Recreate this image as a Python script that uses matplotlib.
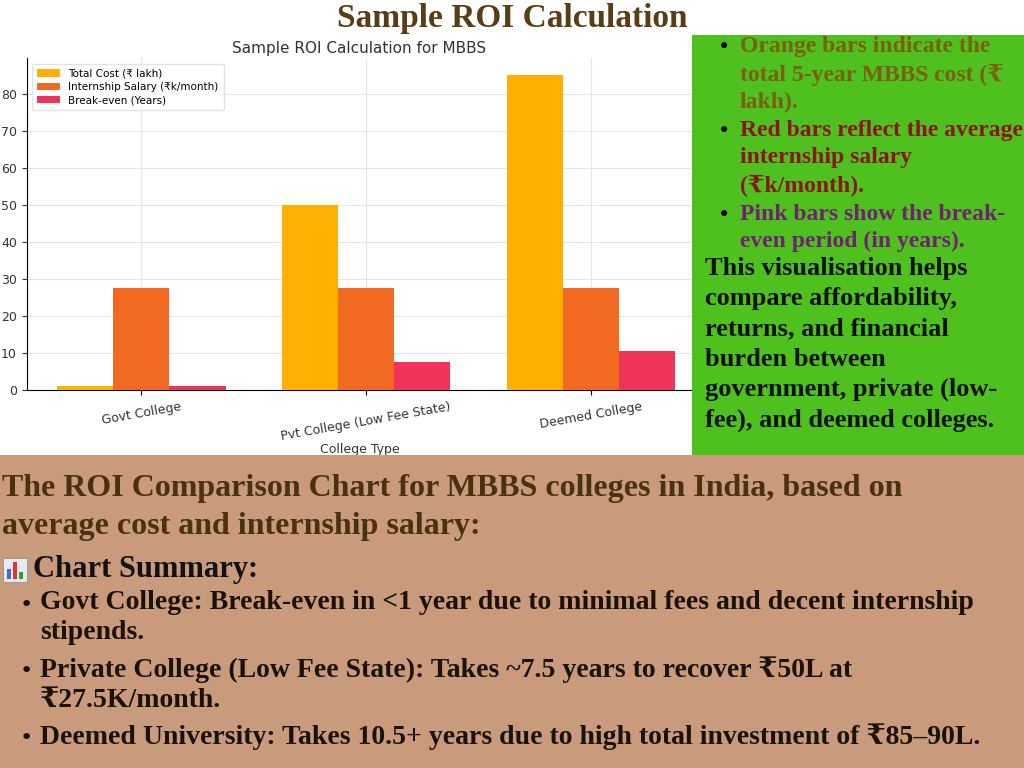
import matplotlib
matplotlib.use("Agg")
import matplotlib.pyplot as plt
import numpy as np
from matplotlib.patches import Rectangle

categories = ["Govt College", "Pvt College (Low Fee State)", "Deemed College"]
total_cost = [1, 50, 85]
intern_salary = [27.5, 27.5, 27.5]
break_even = [1, 7.5, 10.5]
series_labels = ["Total Cost (₹ lakh)", "Internship Salary (₹k/month)", "Break-even (Years)"]
yticks = [0, 10, 20, 30, 40, 50, 60, 70, 80]

SERIF = ["Liberation Serif", "DejaVu Serif", "DejaVu Sans"]
fig = plt.figure(figsize=(10.24, 7.68), dpi=100)
fig.patch.set_facecolor("white")

ax = fig.add_axes([0.026, 0.492, 0.65, 0.432])
x = np.arange(len(categories))
w = 0.25
cols = ["#FFB000", "#F26A21", "#F0335A"]
for i, (vals, lab) in enumerate(zip([total_cost, intern_salary, break_even], series_labels)):
    ax.bar(x + (i - 1) * w, vals, w, color=cols[i], label=lab, zorder=3)
ax.set_xlim(-0.51, 2.45)
ax.set_ylim(0, 89.5)
ax.set_yticks(yticks)
ax.set_xticks(x)
ax.set_xticklabels(categories, rotation=10, fontsize=9, color="#333")
ax.tick_params(axis="y", labelsize=9, colors="#333")
ax.grid(True, color="#e6e6e6", linewidth=0.8, zorder=0)
for s in ["top", "right"]:
    ax.spines[s].set_visible(False)
ax.set_title("Sample ROI Calculation for MBBS", fontsize=11, color="#333", pad=4)
ax.set_xlabel("College Type", fontsize=9, color="#333", labelpad=0)
ax.legend(loc="upper left", fontsize=7.5, frameon=True, edgecolor="#ddd", borderpad=0.5,
          handlelength=2.2, labelspacing=0.3)

# Header
fig.text(0.5, 1-18/768, "Sample ROI Calculation", ha="center", va="center",
         fontsize=24, fontweight="bold", family=SERIF, color="#5a3d12")

# Green box
fig.patches.append(Rectangle((692/1024, 1-455/768), 332/1024, 420/768,
                             transform=fig.transFigure, facecolor="#4fc11f", edgecolor="none", zorder=5))
bul = [
    ("Orange bars indicate the\ntotal 5-year MBBS cost (₹\nlakh).", "#7a6010", 45),
    ("Red bars reflect the average\ninternship salary\n(₹k/month).", "#8a1515", 129),
    ("Pink bars show the break-\neven period (in years).", "#6e2370", 213),
]
for txt, c, ypx in bul:
    fig.text(718/1024, 1-(ypx+2)/768, "•", fontsize=15, color="black", va="center", zorder=6)
    fig.text(740/1024, 1-(ypx-9)/768, txt, fontsize=17, color=c, va="top", fontweight="bold",
             family=SERIF, linespacing=1.38, zorder=6)
fig.text(705/1024, 1-257/768,
         "This visualisation helps\ncompare affordability,\nreturns, and financial\nburden between\ngovernment, private (low-\nfee), and deemed colleges.",
         fontsize=19, fontweight="bold", family=SERIF, color="#111", va="top",
         linespacing=1.4, zorder=6)

# Bottom panel
fig.patches.append(Rectangle((0, 0), 1, 1-455/768, transform=fig.transFigure,
                             facecolor="#c99a7c", edgecolor="none", zorder=5))
fig.text(2/1024, 1-474/768,
         "The ROI Comparison Chart for MBBS colleges in India, based on\naverage cost and internship salary:",
         fontsize=23, fontweight="bold", family=SERIF, color="#4a3210", va="top", linespacing=1.42, zorder=6)
# chart icon
ix, iy = 3/1024, 1-582/768
fig.patches.append(Rectangle((ix, iy), 24/1024, 24/768, transform=fig.transFigure,
                             facecolor="#e8e8f0", edgecolor="#888", lw=0.5, zorder=6))
for k, (h, c) in enumerate([(10, "#3a6fd8"), (17, "#d33"), (7, "#2a2")]):
    fig.patches.append(Rectangle((ix + (4 + k*6)/1024, iy + 3/768), 4/1024, h/768,
                                 transform=fig.transFigure, facecolor=c, zorder=7))
fig.text(33/1024, 1-570/768, "Chart Summary:", fontsize=22, fontweight="bold",
         family=SERIF, color="#111", va="center", zorder=6)
items = [
    ("Govt College: Break-even in <1 year due to minimal fees and decent internship\nstipends.", 605),
    ("Private College (Low Fee State): Takes ~7.5 years to recover ₹50L at\n₹27.5K/month.", 671),
    ("Deemed University: Takes 10.5+ years due to high total investment of ₹85–90L.", 738),
]
for txt, ypx in items:
    fig.text(20/1024, 1-ypx/768, "•", fontsize=16, color="#111", va="center", zorder=6)
    fig.text(40/1024, 1-(ypx-15)/768, txt, fontsize=20, fontweight="bold", family=SERIF,
             color="#1a1208", va="top", linespacing=1.27, zorder=6)

fig.savefig("out.png", dpi=100)
